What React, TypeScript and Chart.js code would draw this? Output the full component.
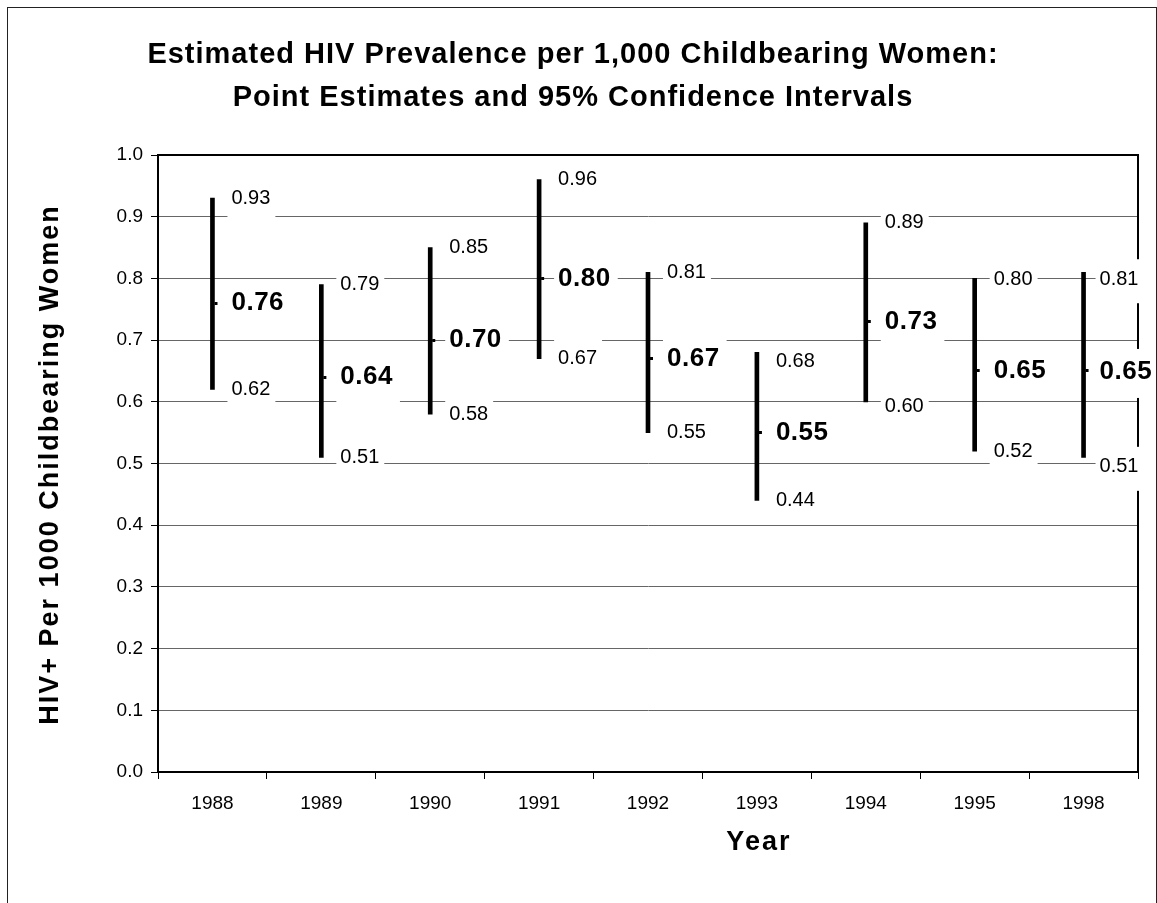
import React, { useEffect, useRef } from 'react';
import { Chart, registerables } from 'chart.js';

Chart.register(...registerables);

// ---------- data ----------
const years = ['1988', '1989', '1990', '1991', '1992', '1993', '1994', '1995', '1998'];
const upper = [0.93, 0.79, 0.85, 0.96, 0.81, 0.68, 0.89, 0.80, 0.81];
const estimate = [0.76, 0.64, 0.70, 0.80, 0.67, 0.55, 0.73, 0.65, 0.65];
const lower = [0.62, 0.51, 0.58, 0.67, 0.55, 0.44, 0.60, 0.52, 0.51];
const yMin = 0;
const yMax = 1;
const yStep = 0.1;
const titleLines = [
  'Estimated HIV Prevalence per 1,000 Childbearing Women:',
  'Point Estimates and 95% Confidence Intervals',
];
const yTitle = 'HIV+ Per 1000 Childbearing Women';
const xTitle = 'Year';

// ---------- layout / style ----------
const FONT = '"Liberation Sans", Arial, Helvetica, sans-serif';
const CANVAS_W = 1148;
const CANVAS_H = 895;
// manual label nudges (as placed in the original)
const labelNudge: Record<string, { dx: number; dy: number }> = {
  '5:high': { dx: 0, dy: 9 },
  '6:low': { dx: 0, dy: 4.5 },
  '7:high': { dx: 0, dy: 1.5 },
  '8:high': { dx: -3, dy: 7 },
  '8:mid': { dx: -3, dy: 1 },
  '8:low': { dx: -3, dy: 9.5 },
};

const annotPlugin = {
  id: 'annot',
  beforeDatasetsDraw(chart: any) {
    const { ctx, chartArea: a } = chart;
    ctx.save();
    ctx.strokeStyle = '#000';
    ctx.lineWidth = 2;
    ctx.beginPath();
    ctx.moveTo(a.left, a.top);
    ctx.lineTo(a.right, a.top);
    ctx.lineTo(a.right, a.bottom);
    ctx.stroke();
    ctx.restore();
  },
  afterDatasetsDraw(chart: any) {
    const ctx = chart.ctx;
    const xs = chart.scales.x;
    const ys = chart.scales.y;
    years.forEach((_, i) => {
      const bx = xs.getPixelForValue(i);
      const items = [
        { key: 'high', v: upper[i], bold: false },
        { key: 'mid', v: estimate[i], bold: true },
        { key: 'low', v: lower[i], bold: false },
      ];
      items.forEach((it) => {
        const n = labelNudge[i + ':' + it.key] || { dx: 0, dy: 0 };
        const tx = bx + 19 + n.dx;
        const ty = ys.getPixelForValue(it.v) + n.dy;
        const text = it.v.toFixed(2);
        ctx.save();
        ctx.font = it.bold ? `bold 26px ${FONT}` : `20px ${FONT}`;
        (ctx as any).letterSpacing = it.bold ? '0.5px' : '0px';
        const w = ctx.measureText(text).width;
        ctx.fillStyle = '#fff';
        if (it.bold) ctx.fillRect(tx - 4, ty - 23, w + 11, 49);
        else ctx.fillRect(tx - 4, ty - 20, w + 9, 44);
        ctx.fillStyle = '#000';
        ctx.textAlign = 'left';
        ctx.textBaseline = 'middle';
        ctx.fillText(text, tx, ty);
        ctx.restore();
      });
    });
  },
  afterDraw(chart: any) {
    const { ctx, chartArea: a } = chart;
    const xs = chart.scales.x;
    ctx.save();
    ctx.fillStyle = '#000';
    ctx.textAlign = 'center';
    ctx.textBaseline = 'middle';
    ctx.font = `bold 29px ${FONT}`;
    (ctx as any).letterSpacing = '1px';
    const cx = chart.width / 2 - 9;
    ctx.fillText(titleLines[0], cx, 47);
    ctx.fillText(titleLines[1], cx, 89.5);

    ctx.font = `bold 27px ${FONT}`;
    (ctx as any).letterSpacing = '2px';
    ctx.fillText(xTitle, xs.getPixelForValue(5) + 2, 835);

    ctx.translate(43, (a.top + a.bottom) / 2 + 1);
    ctx.rotate(-Math.PI / 2);
    ctx.fillText(yTitle, 0, 0);
    ctx.restore();
  },
};

export default function App() {
  const ref = useRef<HTMLCanvasElement>(null);

  useEffect(() => {
    const marker = document.createElement('canvas');
    marker.width = 12;
    marker.height = 3;
    const mctx = marker.getContext('2d')!;
    mctx.fillStyle = '#000';
    mctx.fillRect(8, 0, 3, 3);

    const chart = new Chart(ref.current!, {
      type: 'bar',
      data: {
        labels: years,
        datasets: [
          {
            type: 'bar',
            label: '95% CI',
            data: years.map((_, i) => [lower[i], upper[i]]) as any,
            backgroundColor: '#000',
            borderWidth: 0,
            barThickness: 4,
          },
          {
            type: 'line',
            label: 'Estimate',
            data: estimate,
            showLine: false,
            pointStyle: marker as any,
            pointRadius: 3,
            pointHoverRadius: 3,
            borderColor: '#000',
            backgroundColor: '#000',
          },
        ],
      },
      options: {
        responsive: false,
        animation: false,
        devicePixelRatio: 1,
        layout: { padding: { top: 147, right: 18, left: 0, bottom: 0 } },
        plugins: {
          legend: { display: false },
          tooltip: { enabled: false },
          title: { display: false },
        },
        scales: {
          x: {
            type: 'category',
            offset: true,
            afterFit: (s: any) => {
              s.height = 131;
            },
            grid: {
              display: true,
              drawOnChartArea: false,
              drawTicks: true,
              tickLength: 7,
              tickColor: '#000',
              offset: true,
              lineWidth: 1,
            },
            border: { display: true, color: '#000', width: 2 },
            ticks: {
              color: '#000',
              font: { family: FONT, size: 19 },
              padding: 13,
              maxRotation: 0,
              autoSkip: false,
            },
          },
          y: {
            min: yMin,
            max: yMax,
            afterFit: (s: any) => {
              s.width = 150;
            },
            grid: {
              color: '#666666',
              lineWidth: 1,
              drawTicks: true,
              tickLength: 7,
              tickColor: '#000',
            },
            border: { display: true, color: '#000', width: 2 },
            ticks: {
              stepSize: yStep,
              color: '#000',
              font: { family: FONT, size: 19 },
              padding: 8,
              callback: (v: any) => Number(v).toFixed(1),
            },
          },
        },
      },
      plugins: [annotPlugin],
    });
    return () => chart.destroy();
  }, []);

  return (
    <div
      style={{
        position: 'absolute',
        left: 7,
        top: 7,
        width: 1150,
        height: 896,
        boxSizing: 'border-box',
        borderLeft: '1px solid #222',
        borderTop: '1px solid #222',
        borderRight: '1px solid #222',
        background: '#fff',
      }}
    >
      <canvas
        ref={ref}
        width={CANVAS_W}
        height={CANVAS_H}
        style={{ display: 'block', width: CANVAS_W, height: CANVAS_H }}
      />
    </div>
  );
}
